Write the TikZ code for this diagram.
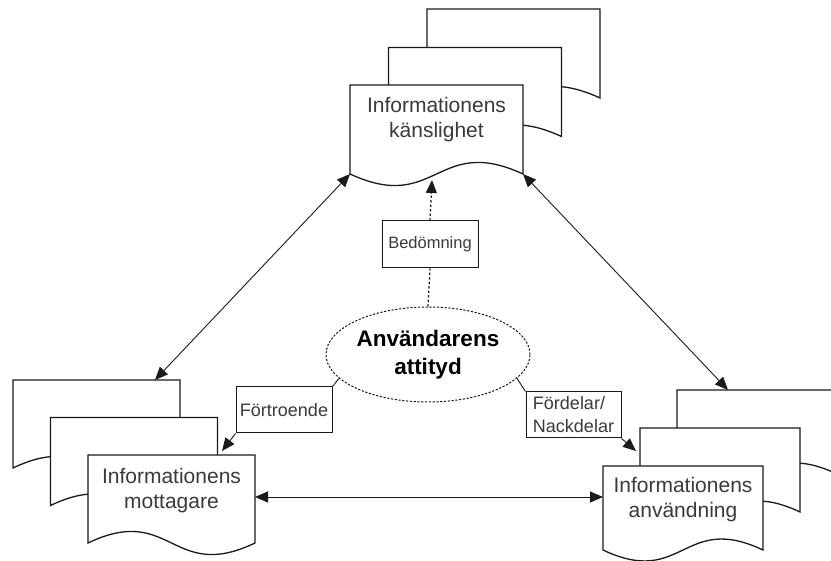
\documentclass[tikz,border=0pt]{standalone}
\usepackage{fontspec}
\setmainfont{Liberation Sans}
\usetikzlibrary{arrows.meta,shapes.geometric}
\definecolor{ink}{HTML}{1A1A1A}
\definecolor{txt}{HTML}{3A3A3A}
% x y w h d  (d>0: dip at left, d<0: dip at right)
\newcommand\docshape[5]{%
  \filldraw[docline] (#1,{#2+#4}) -- (#1,#2) -- ({#1+#3},#2) -- ({#1+#3},{#2+#4})
    .. controls ({#1+0.5*#3},{#2+#4-(#5)}) and ({#1+0.5*#3},{#2+#4+(#5)}) .. (#1,{#2+#4}) -- cycle;}
\begin{document}
\begin{tikzpicture}[x=1pt,y=-1pt,
  docline/.style={draw=ink,fill=white,line width=1.3pt},
  doctext/.style={text=txt,align=center,font=\fontsize{21}{25}\selectfont},
  lab/.style={draw=ink,fill=white,line width=1pt,text=txt,align=center,inner sep=1pt,font=\fontsize{18}{23}\selectfont},
  conn/.style={draw=ink,line width=0.9pt},
  arrowend/.style={-{Triangle[length=13pt,width=11pt]}},
  arrowboth/.style={{Triangle[length=13pt,width=11pt]}-{Triangle[length=13pt,width=11pt]}},
]
\clip (0,0) rectangle (831,561);
% top group: Informationens känslighet
\docshape{427}{9}{173}{89}{40}
\docshape{388.5}{47.5}{173}{89}{40}
\docshape{350}{85}{173}{89}{40}
\node[doctext] (kans) at (436.5,120) {Informationens\\känslighet};
% left group: Informationens mottagare (mirrored)
\docshape{13}{380}{167}{88}{-40}
\docshape{50.5}{417.5}{167}{88}{-40}
\docshape{88}{455}{167}{88}{-40}
\node[doctext] (mott) at (171.5,490.5) {Informationens\\mottagare};
% right group: Informationens användning
\docshape{677}{390}{160}{84}{38}
\docshape{640}{428}{160}{84}{38}
\docshape{603}{466}{160}{84}{38}
\node[doctext] (anv) at (683,500) {Informationens\\användning};
% connection points
\coordinate (kBL) at (350,174);
\coordinate (kBR) at (523,174);
\coordinate (kB) at (432,180);
\coordinate (mTop) at (155,380);
\coordinate (mR) at (255,497);
\coordinate (mTip) at (222,451);
\coordinate (aTop) at (728,390);
\coordinate (aL) at (603,497);
\coordinate (aTip) at (636,451);
% central ellipse and labels
\node[ellipse,draw=ink,line width=1pt,dash pattern=on 2.2pt off 1.6pt,fill=white,
      minimum width=204pt,minimum height=95pt,inner sep=0pt,align=center,text=black,
      font=\bfseries\fontsize{22.5}{28}\selectfont] (ell) at (428,354.5) {Användarens\\attityd};
\node[lab,minimum width=96pt,minimum height=47pt,font=\fontsize{16.5}{20}\selectfont] (bed) at (430,244.5) {Bedömning};
\node[lab,minimum width=96pt,minimum height=46pt] (fort) at (284,410) {Förtroende};
\node[lab,minimum width=95pt,minimum height=46pt,align=left] (ford) at (573.5,415) {Fördelar/\\Nackdelar};
% connectors
\draw[conn,arrowboth] (kBL) -- (mTop);
\draw[conn,arrowboth] (kBR) -- (aTop);
\draw[conn,arrowboth] (mR) -- (aL);
\draw[conn,dash pattern=on 2.5pt off 2pt,line width=1.2pt] (ell.north) -- (bed.south);
\draw[conn,dash pattern=on 2.5pt off 2pt,line width=1.2pt,arrowend] (bed.north) -- (kB);
\draw[conn] (ell.195) -- (fort.north east);
\draw[conn,arrowend] (fort.south west) -- (mTip);
\draw[conn] (ell.-15) -- (ford.north west);
\draw[conn,arrowend] (ford.south east) -- (aTip);
\end{tikzpicture}
\end{document}
